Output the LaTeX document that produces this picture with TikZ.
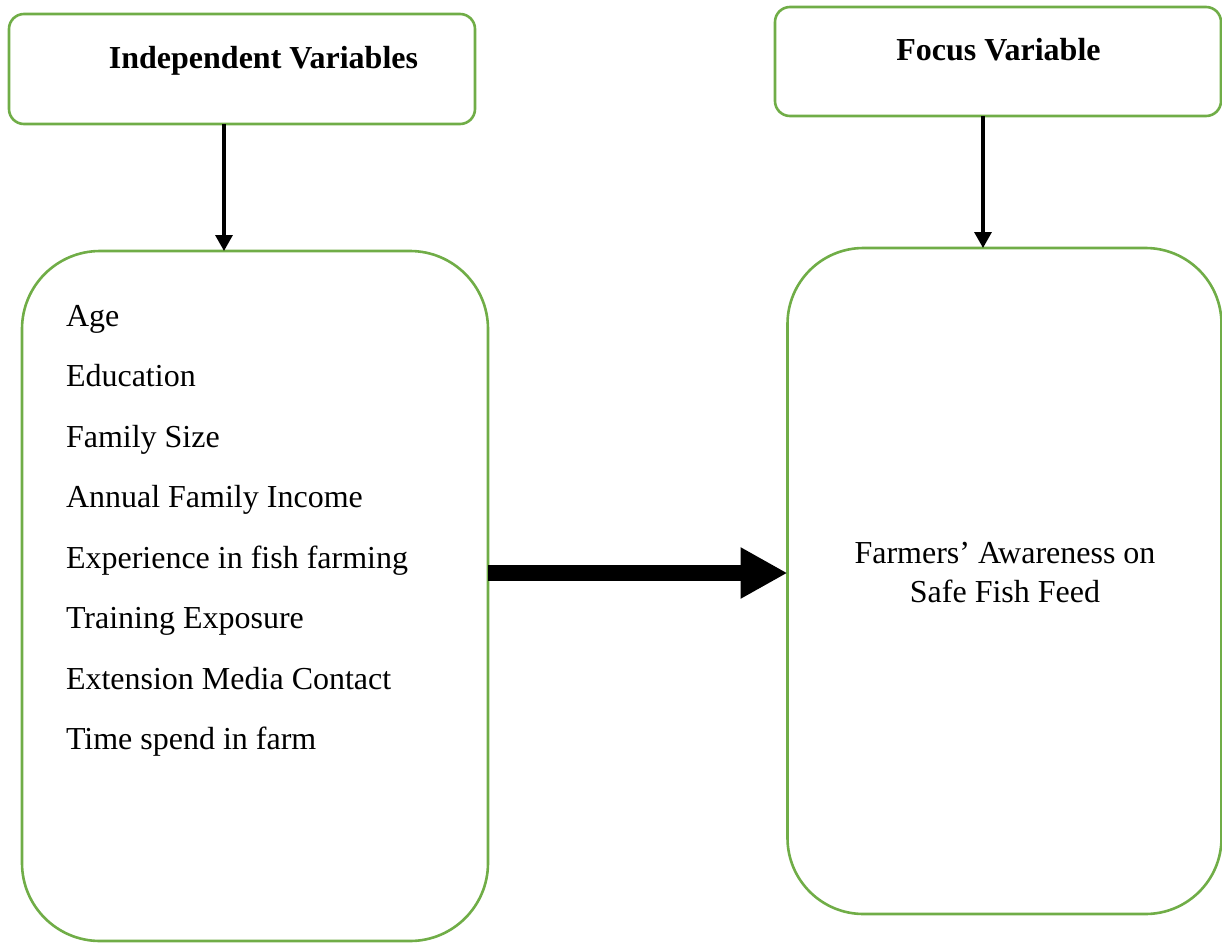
\documentclass[tikz,border=0pt]{standalone}
\usepackage{fontspec}
\setmainfont{Liberation Serif}
\usetikzlibrary{arrows.meta}
\definecolor{boxgreen}{HTML}{70AD47}
\begin{document}
\begin{tikzpicture}[x=0.5pt,y=-0.5pt,
  gbox/.style={draw=boxgreen,line width=1.3pt,rectangle,inner sep=0pt,outer sep=0pt},
  txt/.style={inner sep=0pt,outer sep=0pt,font=\fontsize{16}{19.2}\selectfont},
  btxt/.style={txt,font=\fontsize{16}{19.2}\selectfont\bfseries},
  varrow/.style={draw=black,line width=1.6pt,-{Triangle[length=8pt,width=8.5pt]}},
  bigarrow/.style={draw=black,line width=8pt,-{Triangle[length=23.5pt,width=24pt]}}]
\useasboundingbox (0,0) rectangle (1222,943);
\node[gbox,rounded corners=7.5pt,minimum width=233pt,minimum height=55pt] (iv) at (242,69) {};
\node[gbox,rounded corners=7.5pt,minimum width=223pt,minimum height=54.5pt] (fv) at (998,61.5) {};
\node[gbox,rounded corners=39pt,minimum width=233pt,minimum height=345pt] (lb) at (255,596) {};
\node[gbox,rounded corners=38pt,minimum width=217pt,minimum height=333pt] (rb) at (1004.5,581) {};
\node[btxt,anchor=base] (ivt) at (263.5,68) {Independent Variables};
\node[btxt,anchor=base] (fvt) at (998.5,60) {Focus Variable};
\foreach \t [count=\i from 0] in {Age,Education,Family Size,Annual Family Income,Experience in fish farming,Training Exposure,Extension Media Contact,Time spend in farm}
  \node[txt,anchor=base west] (item\i) at (66,{326+60.5*\i}) {\t};
\node[txt,anchor=base] (fa1) at (1005,563) {Farmers’ Awareness on};
\node[txt,anchor=base] (fa2) at (1005,602) {Safe Fish Feed};
\coordinate (a1) at (224,0);
\coordinate (a2) at (983,0);
\coordinate (a3) at (0,573);
\draw[varrow] (iv.south -| a1) -- (lb.north -| a1);
\draw[varrow] (fv.south -| a2) -- (rb.north -| a2);
\draw[bigarrow] (lb.east |- a3) -- (rb.west |- a3);
\end{tikzpicture}
\end{document}
